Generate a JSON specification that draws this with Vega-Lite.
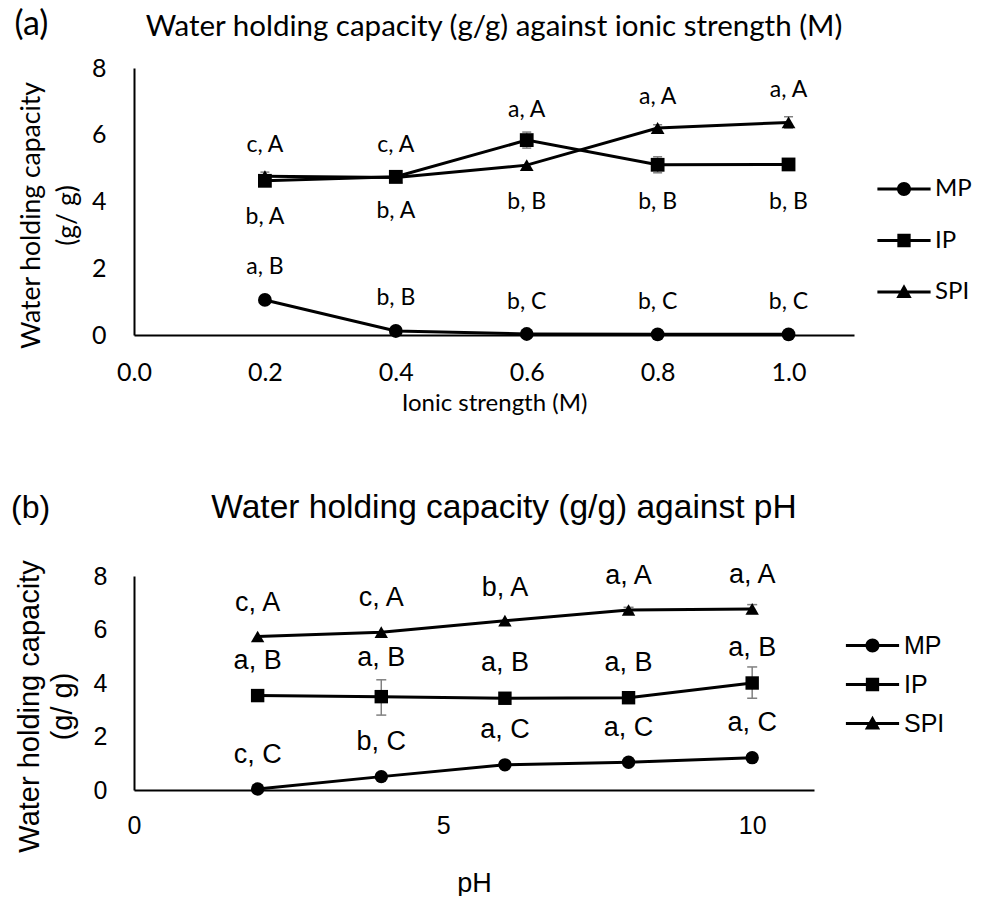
{
  "$schema": "https://vega.github.io/schema/vega-lite/v6.json",
  "padding": {"left": 11, "top": 7, "right": 0, "bottom": 0},
  "background": "white",
  "config": {
    "view": {"stroke": null},
    "axis": {"grid": false, "ticks": false, "domainColor": "black", "domainWidth": 2, "labelColor": "black", "titleColor": "black", "labelFlush": false, "titleFontWeight": "normal"},
    "concat": {"spacing": 76}
  },
  "resolve": {"scale": {"shape": "independent"}, "legend": {"shape": "independent"}},
  "datasets": {
    "a": [
      {"x": 0.2, "series": "MP", "value": 1.05, "label": "a, B", "label_y": 2.04},
      {"x": 0.4, "series": "MP", "value": 0.12, "label": "b, B", "label_y": 1.11},
      {"x": 0.6, "series": "MP", "value": 0.03, "label": "b, C", "label_y": 1.0},
      {"x": 0.8, "series": "MP", "value": 0.02, "label": "b, C", "label_y": 1.0},
      {"x": 1.0, "series": "MP", "value": 0.02, "label": "b, C", "label_y": 1.0},
      {"x": 0.2, "series": "IP", "value": 4.62, "label": "b, A", "label_y": 3.53},
      {"x": 0.4, "series": "IP", "value": 4.74, "label": "b, A", "label_y": 3.71},
      {"x": 0.6, "series": "IP", "value": 5.84, "lo": 5.6, "hi": 6.08, "label": "b, B", "label_y": 3.99},
      {"x": 0.8, "series": "IP", "value": 5.1, "lo": 4.86, "hi": 5.34, "label": "b, B", "label_y": 3.99},
      {"x": 1.0, "series": "IP", "value": 5.11, "label": "b, B", "label_y": 3.99},
      {"x": 0.2, "series": "SPI", "value": 4.76, "lo": 4.64, "hi": 4.88, "label": "c, A", "label_y": 5.69},
      {"x": 0.4, "series": "SPI", "value": 4.72, "label": "c, A", "label_y": 5.69},
      {"x": 0.6, "series": "SPI", "value": 5.09, "label": "a, A", "label_y": 6.74},
      {"x": 0.8, "series": "SPI", "value": 6.2, "lo": 6.1, "hi": 6.3, "label": "a, A", "label_y": 7.13},
      {"x": 1.0, "series": "SPI", "value": 6.37, "lo": 6.2, "hi": 6.54, "label": "a, A", "label_y": 7.33}
    ],
    "b": [
      {"x": 2, "series": "MP", "value": 0.04, "label": "c, C", "label_y": 1.31},
      {"x": 4, "series": "MP", "value": 0.5, "label": "b, C", "label_y": 1.81},
      {"x": 6, "series": "MP", "value": 0.94, "label": "a, C", "label_y": 2.25},
      {"x": 8, "series": "MP", "value": 1.04, "label": "a, C", "label_y": 2.31},
      {"x": 10, "series": "MP", "value": 1.21, "lo": 1.08, "hi": 1.34, "label": "a, C", "label_y": 2.5},
      {"x": 2, "series": "IP", "value": 3.53, "label": "a, B", "label_y": 4.82},
      {"x": 4, "series": "IP", "value": 3.49, "lo": 2.8, "hi": 4.12, "label": "a, B", "label_y": 4.94},
      {"x": 6, "series": "IP", "value": 3.43, "lo": 3.3, "hi": 3.56, "label": "a, B", "label_y": 4.75},
      {"x": 8, "series": "IP", "value": 3.45, "lo": 3.35, "hi": 3.55, "label": "a, B", "label_y": 4.75},
      {"x": 10, "series": "IP", "value": 4.0, "lo": 3.43, "hi": 4.6, "label": "a, B", "label_y": 5.3},
      {"x": 2, "series": "SPI", "value": 5.74, "label": "c, A", "label_y": 6.99},
      {"x": 4, "series": "SPI", "value": 5.9, "label": "c, A", "label_y": 7.18},
      {"x": 6, "series": "SPI", "value": 6.33, "label": "b, A", "label_y": 7.56},
      {"x": 8, "series": "SPI", "value": 6.73, "lo": 6.63, "hi": 6.83, "label": "a, A", "label_y": 8.0},
      {"x": 10, "series": "SPI", "value": 6.77, "lo": 6.6, "hi": 6.93, "label": "a, A", "label_y": 8.05}
    ]
  },
  "vconcat": [
    {
      "title": {"text": "(a)", "anchor": "start", "frame": "bounds", "font": "Lato", "fontSize": 34, "fontWeight": "normal", "color": "black", "dy": 34, "dx": -4},
      "vconcat": [
        {
          "width": 720,
          "height": 267,
          "title": {"text": "Water holding capacity (g/g) against ionic strength (M)", "anchor": "middle", "frame": "group", "font": "Lato", "fontSize": 29.5, "fontWeight": "normal", "color": "black", "offset": 14},
          "data": {"name": "a"},
          "resolve": {"scale": {"shape": "independent"}, "legend": {"shape": "independent"}},
          "encoding": {
            "x": {"field": "x", "type": "quantitative", "scale": {"domain": [0, 1.1], "nice": false},
              "axis": {"values": [0, 0.2, 0.4, 0.6, 0.8, 1.0], "format": ".1f", "title": "Ionic strength (M)", "labelFont": "Lato", "labelFontSize": 25, "labelPadding": 25, "titleFont": "Lato", "titleFontSize": 24, "titlePadding": 6}}
          },
          "layer": [
            {
              "transform": [{"filter": "isValid(datum.lo)"}],
              "mark": {"type": "rule", "color": "#808080", "strokeWidth": 1.5},
              "encoding": {
                "y": {"field": "lo", "type": "quantitative", "scale": {"domain": [0, 8], "nice": false}, "axis": {"values": [0, 2, 4, 6, 8], "title": ["Water holding capacity", "(g/ g)"], "labelFont": "Lato", "labelFontSize": 25, "labelPadding": 28, "titleFont": "Lato", "titleFontSize": 26.5, "titleLineHeight": 36, "titlePadding": 10, "titleY": 147}},
                "y2": {"field": "hi"}
              }
            },
            {
              "transform": [{"filter": "isValid(datum.lo)"}],
              "mark": {"type": "tick", "orient": "horizontal", "color": "#808080", "thickness": 1.5, "size": 9, "opacity": 1},
              "encoding": {
                "y": {"field": "lo", "type": "quantitative", "scale": {"domain": [0, 8], "nice": false}, "axis": {"values": [0, 2, 4, 6, 8], "title": ["Water holding capacity", "(g/ g)"], "labelFont": "Lato", "labelFontSize": 25, "labelPadding": 28, "titleFont": "Lato", "titleFontSize": 26.5, "titleLineHeight": 36, "titlePadding": 10, "titleY": 147}}
              }
            },
            {
              "transform": [{"filter": "isValid(datum.hi)"}],
              "mark": {"type": "tick", "orient": "horizontal", "color": "#808080", "thickness": 1.5, "size": 9, "opacity": 1},
              "encoding": {
                "y": {"field": "hi", "type": "quantitative", "scale": {"domain": [0, 8], "nice": false}, "axis": {"values": [0, 2, 4, 6, 8], "title": ["Water holding capacity", "(g/ g)"], "labelFont": "Lato", "labelFontSize": 25, "labelPadding": 28, "titleFont": "Lato", "titleFontSize": 26.5, "titleLineHeight": 36, "titlePadding": 10, "titleY": 147}}
              }
            },
            {
              "mark": {"type": "line", "color": "black", "strokeWidth": 3},
              "encoding": {
                "y": {"field": "value", "type": "quantitative", "scale": {"domain": [0, 8], "nice": false}, "axis": {"values": [0, 2, 4, 6, 8], "title": ["Water holding capacity", "(g/ g)"], "labelFont": "Lato", "labelFontSize": 25, "labelPadding": 28, "titleFont": "Lato", "titleFontSize": 26.5, "titleLineHeight": 36, "titlePadding": 10, "titleY": 147}},
                "detail": {"field": "series"}
              }
            },
            {
              "mark": {"type": "point", "filled": true, "color": "black", "size": 190, "opacity": 1},
              "encoding": {
                "y": {"field": "value", "type": "quantitative", "scale": {"domain": [0, 8], "nice": false}, "axis": {"values": [0, 2, 4, 6, 8], "title": ["Water holding capacity", "(g/ g)"], "labelFont": "Lato", "labelFontSize": 25, "labelPadding": 28, "titleFont": "Lato", "titleFontSize": 26.5, "titleLineHeight": 36, "titlePadding": 10, "titleY": 147}},
                "shape": {"field": "series", "type": "nominal", "scale": {"domain": ["MP", "IP", "SPI"], "range": ["circle", "square", "triangle-up"]}, "legend": null}
              }
            },
            {
              "transform": [{"filter": "datum.x > 100"}],
              "mark": {"type": "point", "filled": true, "color": "black", "size": 196, "opacity": 1},
              "encoding": {
                "y": {"field": "value", "type": "quantitative", "scale": {"domain": [0, 8], "nice": false}, "axis": {"values": [0, 2, 4, 6, 8], "title": ["Water holding capacity", "(g/ g)"], "labelFont": "Lato", "labelFontSize": 25, "labelPadding": 28, "titleFont": "Lato", "titleFontSize": 26.5, "titleLineHeight": 36, "titlePadding": 10, "titleY": 147}},
                "shape": {"field": "series", "type": "nominal",
                  "scale": {"domain": ["MP", "IP", "SPI"], "range": ["M-3.8,-0.22H3.8V0.22H-3.8Z M-1,0A1,1 0 1,1 1,0A1,1 0 1,1 -1,0Z", "M-3.8,-0.22H3.8V0.22H-3.8Z M-0.95,-0.95H0.95V0.95H-0.95Z", "M-3.8,-0.22H3.8V0.22H-3.8Z M0,-1.1L1.1,0.85H-1.1Z"]},
                  "legend": {"title": null, "orient": "none", "legendX": 758, "legendY": 109, "symbolSize": 196, "symbolFillColor": "black", "symbolStrokeWidth": 0, "symbolOpacity": 1, "labelFont": "Lato", "labelFontSize": 24, "labelColor": "black", "labelOffset": 19, "rowPadding": 27.5}
                }
              }
            },
            {
              "mark": {"type": "text", "font": "Lato", "fontSize": 23, "color": "black", "align": "center", "baseline": "middle"},
              "encoding": {
                "y": {"field": "label_y", "type": "quantitative", "scale": {"domain": [0, 8], "nice": false}, "axis": {"values": [0, 2, 4, 6, 8], "title": ["Water holding capacity", "(g/ g)"], "labelFont": "Lato", "labelFontSize": 25, "labelPadding": 28, "titleFont": "Lato", "titleFontSize": 26.5, "titleLineHeight": 36, "titlePadding": 10, "titleY": 147}},
                "text": {"field": "label"}
              }
            }
          ]
        }
      ]
    },
    {
      "title": {"text": "(b)", "anchor": "start", "frame": "bounds", "font": "Liberation Sans", "fontSize": 32, "fontWeight": "normal", "color": "black", "dy": 38, "dx": -4},
      "vconcat": [
        {
          "width": 680,
          "height": 214,
          "title": {"text": "Water holding capacity (g/g) against pH", "anchor": "middle", "frame": "group", "font": "Liberation Sans", "fontSize": 33.5, "fontWeight": "normal", "color": "black", "offset": 34, "dx": 30},
          "data": {"name": "b"},
          "resolve": {"scale": {"shape": "independent"}, "legend": {"shape": "independent"}},
          "encoding": {
            "x": {"field": "x", "type": "quantitative", "scale": {"domain": [0, 11], "nice": false},
              "axis": {"values": [0, 5, 10], "title": "pH", "labelFont": "Liberation Sans", "labelFontSize": 25, "labelPadding": 23, "titleFont": "Liberation Sans", "titleFontSize": 27, "titlePadding": 32}}
          },
          "layer": [
            {
              "transform": [{"filter": "isValid(datum.lo)"}],
              "mark": {"type": "rule", "color": "#808080", "strokeWidth": 1.5},
              "encoding": {
                "y": {"field": "lo", "type": "quantitative", "scale": {"domain": [0, 8], "nice": false}, "axis": {"values": [0, 2, 4, 6, 8], "title": ["Water holding capacity", "(g/ g)"], "labelFont": "Liberation Sans", "labelFontSize": 25, "labelPadding": 27, "titleFont": "Liberation Sans", "titleFontSize": 29, "titleLineHeight": 33, "titlePadding": 16, "titleY": 130}},
                "y2": {"field": "hi"}
              }
            },
            {
              "transform": [{"filter": "isValid(datum.lo)"}],
              "mark": {"type": "tick", "orient": "horizontal", "color": "#808080", "thickness": 1.5, "size": 10, "opacity": 1},
              "encoding": {
                "y": {"field": "lo", "type": "quantitative", "scale": {"domain": [0, 8], "nice": false}, "axis": {"values": [0, 2, 4, 6, 8], "title": ["Water holding capacity", "(g/ g)"], "labelFont": "Liberation Sans", "labelFontSize": 25, "labelPadding": 27, "titleFont": "Liberation Sans", "titleFontSize": 29, "titleLineHeight": 33, "titlePadding": 16, "titleY": 130}}
              }
            },
            {
              "transform": [{"filter": "isValid(datum.hi)"}],
              "mark": {"type": "tick", "orient": "horizontal", "color": "#808080", "thickness": 1.5, "size": 10, "opacity": 1},
              "encoding": {
                "y": {"field": "hi", "type": "quantitative", "scale": {"domain": [0, 8], "nice": false}, "axis": {"values": [0, 2, 4, 6, 8], "title": ["Water holding capacity", "(g/ g)"], "labelFont": "Liberation Sans", "labelFontSize": 25, "labelPadding": 27, "titleFont": "Liberation Sans", "titleFontSize": 29, "titleLineHeight": 33, "titlePadding": 16, "titleY": 130}}
              }
            },
            {
              "mark": {"type": "line", "color": "black", "strokeWidth": 3},
              "encoding": {
                "y": {"field": "value", "type": "quantitative", "scale": {"domain": [0, 8], "nice": false}, "axis": {"values": [0, 2, 4, 6, 8], "title": ["Water holding capacity", "(g/ g)"], "labelFont": "Liberation Sans", "labelFontSize": 25, "labelPadding": 27, "titleFont": "Liberation Sans", "titleFontSize": 29, "titleLineHeight": 33, "titlePadding": 16, "titleY": 130}},
                "detail": {"field": "series"}
              }
            },
            {
              "mark": {"type": "point", "filled": true, "color": "black", "size": 180, "opacity": 1},
              "encoding": {
                "y": {"field": "value", "type": "quantitative", "scale": {"domain": [0, 8], "nice": false}, "axis": {"values": [0, 2, 4, 6, 8], "title": ["Water holding capacity", "(g/ g)"], "labelFont": "Liberation Sans", "labelFontSize": 25, "labelPadding": 27, "titleFont": "Liberation Sans", "titleFontSize": 29, "titleLineHeight": 33, "titlePadding": 16, "titleY": 130}},
                "shape": {"field": "series", "type": "nominal", "scale": {"domain": ["MP", "IP", "SPI"], "range": ["circle", "square", "triangle-up"]}, "legend": null}
              }
            },
            {
              "transform": [{"filter": "datum.x > 100"}],
              "mark": {"type": "point", "filled": true, "color": "black", "size": 196, "opacity": 1},
              "encoding": {
                "y": {"field": "value", "type": "quantitative", "scale": {"domain": [0, 8], "nice": false}, "axis": {"values": [0, 2, 4, 6, 8], "title": ["Water holding capacity", "(g/ g)"], "labelFont": "Liberation Sans", "labelFontSize": 25, "labelPadding": 27, "titleFont": "Liberation Sans", "titleFontSize": 29, "titleLineHeight": 33, "titlePadding": 16, "titleY": 130}},
                "shape": {"field": "series", "type": "nominal",
                  "scale": {"domain": ["MP", "IP", "SPI"], "range": ["M-3.8,-0.22H3.8V0.22H-3.8Z M-1,0A1,1 0 1,1 1,0A1,1 0 1,1 -1,0Z", "M-3.8,-0.22H3.8V0.22H-3.8Z M-0.95,-0.95H0.95V0.95H-0.95Z", "M-3.8,-0.22H3.8V0.22H-3.8Z M0,-1.1L1.1,0.85H-1.1Z"]},
                  "legend": {"title": null, "orient": "none", "legendX": 726, "legendY": 57, "symbolSize": 196, "symbolFillColor": "black", "symbolStrokeWidth": 0, "symbolOpacity": 1, "labelFont": "Liberation Sans", "labelFontSize": 25, "labelColor": "black", "labelOffset": 19, "rowPadding": 13}
                }
              }
            },
            {
              "mark": {"type": "text", "font": "Liberation Sans", "fontSize": 27, "color": "black", "align": "center", "baseline": "middle"},
              "encoding": {
                "y": {"field": "label_y", "type": "quantitative", "scale": {"domain": [0, 8], "nice": false}, "axis": {"values": [0, 2, 4, 6, 8], "title": ["Water holding capacity", "(g/ g)"], "labelFont": "Liberation Sans", "labelFontSize": 25, "labelPadding": 27, "titleFont": "Liberation Sans", "titleFontSize": 29, "titleLineHeight": 33, "titlePadding": 16, "titleY": 130}},
                "text": {"field": "label"}
              }
            }
          ]
        }
      ]
    }
  ]
}
